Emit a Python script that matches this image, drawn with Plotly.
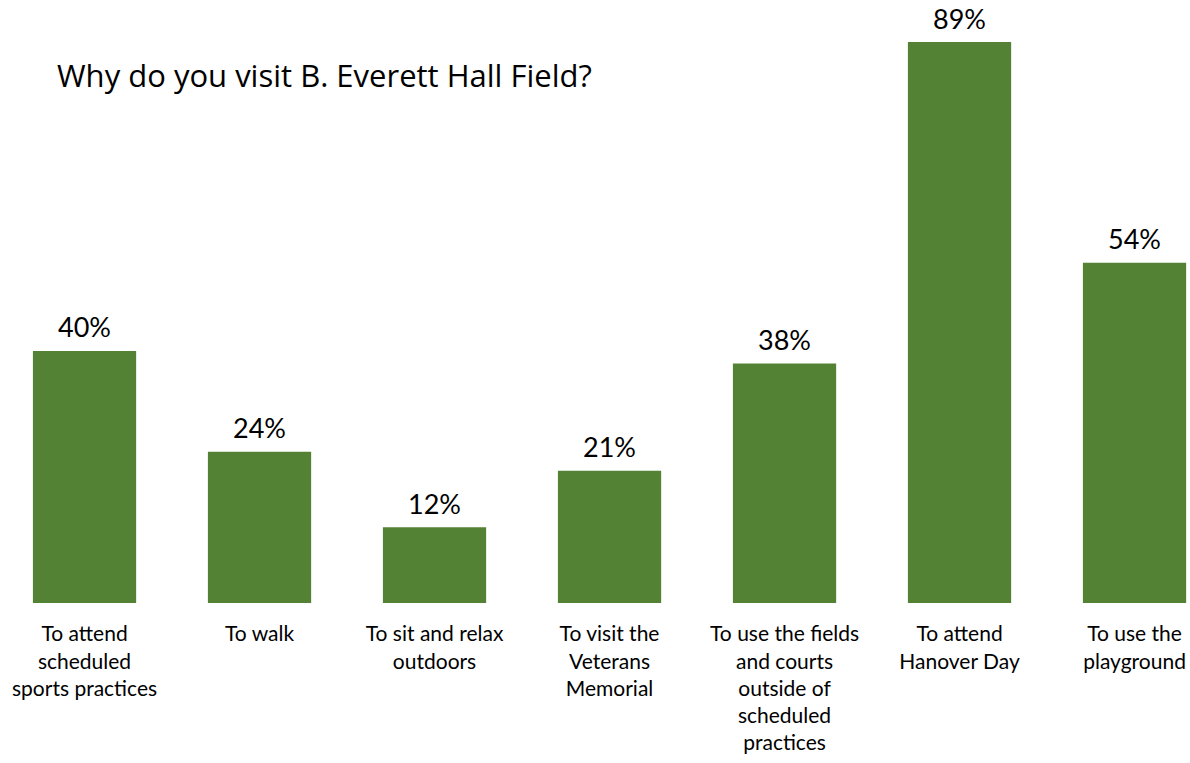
import plotly.graph_objects as go

categories = [
    "To attend<br>scheduled<br>sports practices",
    "To walk",
    "To sit and relax<br>outdoors",
    "To visit the<br>Veterans<br>Memorial",
    "To use the fields<br>and courts<br>outside of<br>scheduled<br>practices",
    "To attend<br>Hanover Day",
    "To use the<br>playground",
]
values = [40, 24, 12, 21, 38, 89, 54]
title_text = "Why do you visit B. Everett Hall Field?"

FONT = "Lato, 'Open Sans', sans-serif"
TITLE_FONT = "'Open Sans', Lato, sans-serif"

xs = list(range(len(categories)))

fig = go.Figure(
    go.Bar(
        x=xs,
        y=values,
        width=0.59,
        marker=dict(color="#548235", line=dict(width=0)),
        hoverinfo="skip",
    )
)

annotations = [
    dict(
        x=xi,
        y=v,
        xref="x",
        yref="y",
        text=f"{v}%",
        showarrow=False,
        xanchor="center",
        yanchor="middle",
        yshift=24,
        font=dict(size=27, family=FONT, color="#000000"),
    )
    for xi, v in zip(xs, values)
]
annotations.append(
    dict(
        text=title_text,
        x=55 / 1190,
        y=1 - 75 / 603,
        xref="paper",
        yref="paper",
        xanchor="left",
        yanchor="middle",
        showarrow=False,
        font=dict(size=31, family=TITLE_FONT, color="#000000"),
    )
)

fig.update_layout(
    width=1190,
    height=763,
    margin=dict(l=0, r=0, t=0, b=160),
    plot_bgcolor="white",
    paper_bgcolor="white",
    showlegend=False,
    font=dict(family=FONT, color="#000000"),
    xaxis=dict(
        range=[-0.483, 6.317],
        tickmode="array",
        tickvals=xs,
        ticktext=categories,
        tickfont=dict(size=21, family=FONT, color="#000000"),
        ticks="outside",
        ticklen=12,
        tickcolor="rgba(0,0,0,0)",
        showgrid=False,
        zeroline=False,
        showline=False,
    ),
    yaxis=dict(
        range=[0, 95.67],
        visible=False,
        showgrid=False,
        zeroline=False,
    ),
    annotations=annotations,
)

fig.write_html(
    "out.html",
    config={"displayModeBar": False},
    post_script="document.body.style.margin='0';document.body.style.overflow='hidden';",
)
